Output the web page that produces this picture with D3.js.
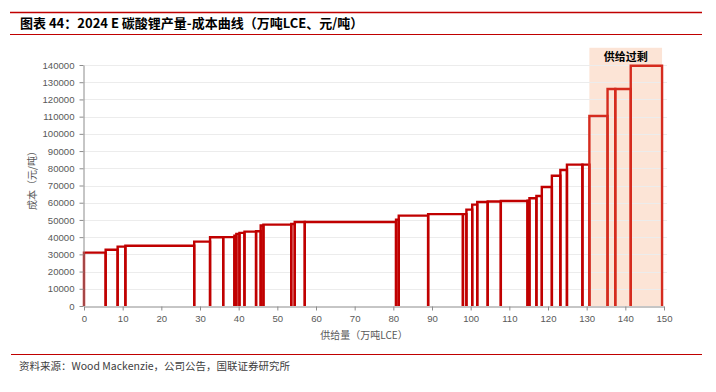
<!DOCTYPE html>
<meta charset="utf-8">
<head>
    <script src="https://d3js.org/d3.v7.min.js"></script>
</head>
<style>
    body { margin: 0; background: #fff; }
    .tick text { font-family: 'Liberation Sans', Arial, sans-serif; font-size: 9.6px; fill: #595959; }
    .axis path, .axis line { stroke: #8c8c8c; }
    .cn { font-family: 'Noto Sans CJK SC', sans-serif; }
</style>
<div id="my_dataviz"></div>
<script>

    // cumulative supply (万吨LCE) at the right edge of each step, and its cost (元/吨)
    var supplyEnd = [5.6, 8.7, 10.7, 28.5, 32.6, 36.0, 38.9, 39.4, 40.2, 41.5, 44.5, 45.7, 46.4, 53.6, 54.5, 57.1,
        80.7, 81.4, 89.0, 98.0, 98.9, 100.4, 101.7, 104.4, 107.8, 114.7, 115.2, 117.0, 118.4, 121.0, 123.2,
        124.9, 128.9, 130.7, 135.4, 137.4, 141.4, 149.5];
    var cost = [31000, 32700, 34500, 35000, 37400, 39900, 40000, 40900, 41900, 42500, 43200, 43400, 46800, 47300,
        47600, 48800, 48800, 50200, 52500, 53400, 53400, 56000, 58900, 60400, 60700, 61000, 61200, 62600, 63900,
        69100, 75700, 79000, 82100, 82100, 110400, 126100, 126100, 139600];
    var xTicks = [0, 10, 20, 30, 40, 50, 60, 70, 80, 90, 100, 110, 120, 130, 140, 150];
    var yTicks = [0, 10000, 20000, 30000, 40000, 50000, 60000, 70000, 80000, 90000, 100000, 110000, 120000, 130000, 140000];
    var surplusStart = 130.7;
    var surplusLabel = "供给过剩";

    var steps = supplyEnd.map(function (e, i) {
        return {x0: i === 0 ? 0 : supplyEnd[i - 1], x1: e, cost: cost[i]};
    });

    var W = 716, H = 392;
    var svg = d3.select("#my_dataviz")
        .append("svg")
        .attr("width", W)
        .attr("height", H);

    // header / footer
    svg.append("line").attr("x1", 10).attr("x2", 702).attr("y1", 12.5).attr("y2", 12.5)
        .attr("stroke", "#c00000").attr("stroke-width", 1.5);
    svg.append("line").attr("x1", 10).attr("x2", 702).attr("y1", 34.5).attr("y2", 34.5)
        .attr("stroke", "#c00000").attr("stroke-width", 1);
    svg.append("text").attr("class", "cn")
        .attr("x", 20).attr("y", 28)
        .style("font-size", "13px").style("font-weight", "bold").style("fill", "#000")
        .text("图表 44：2024 E 碳酸锂产量-成本曲线（万吨LCE、元/吨）");
    svg.append("line").attr("x1", 11).attr("x2", 702).attr("y1", 354.5).attr("y2", 354.5)
        .attr("stroke", "#c00000").attr("stroke-width", 1);
    svg.append("text").attr("class", "cn")
        .attr("x", 19).attr("y", 370)
        .style("font-size", "10.5px").style("fill", "#404040")
        .text("资料来源：Wood Mackenzie，公司公告，国联证券研究所");

    var x = d3.scaleLinear().domain([0, 150]).range([84, 664]);
    var y = d3.scaleLinear().domain([0, 140000]).range([306, 65]);

    // surplus shading
    svg.append("rect")
        .attr("x", x(surplusStart))
        .attr("y", y(150000))
        .attr("width", x(supplyEnd[supplyEnd.length - 1]) - x(surplusStart))
        .attr("height", y(0) - y(150000))
        .attr("fill", "#fce4d6");
    svg.append("text").attr("class", "cn")
        .attr("x", (x(surplusStart) + x(supplyEnd[supplyEnd.length - 1])) / 2)
        .attr("y", 61)
        .attr("text-anchor", "middle")
        .style("font-size", "11px").style("font-weight", "bold").style("fill", "#000")
        .text(surplusLabel);

    // gridlines
    svg.append("g")
        .selectAll("line")
        .data(yTicks.slice(1))
        .enter()
        .append("line")
        .attr("x1", x(0)).attr("x2", x(150) + 3)
        .attr("y1", function (d) { return Math.round(y(d)) + 0.5; })
        .attr("y2", function (d) { return Math.round(y(d)) + 0.5; })
        .attr("stroke", "#ececec")
        .attr("stroke-width", 1);

    // steps: open-bottom boxes standing on the axis
    svg.append("g")
        .selectAll("path")
        .data(steps)
        .enter()
        .append("path")
        .attr("d", function (d) {
            return "M" + x(d.x0) + "," + y(0) + "V" + y(d.cost) + "H" + x(d.x1) + "V" + y(0);
        })
        .attr("fill", "none")
        .attr("stroke", function (d) { return d.x0 >= surplusStart ? "#d52b1e" : "#c00000"; })
        .attr("stroke-width", 2.4);

    // axes
    svg.append("g")
        .attr("class", "axis")
        .attr("transform", "translate(0," + (y(0) + 0.5) + ")")
        .call(d3.axisBottom(x).tickValues(xTicks).tickSize(4).tickSizeOuter(0))
        .selectAll("text").attr("dy", "0.9em");
    svg.append("g")
        .attr("class", "axis")
        .attr("transform", "translate(" + (x(0) - 0.5) + ",0)")
        .call(d3.axisLeft(y).tickValues(yTicks).tickSize(4).tickSizeOuter(0).tickFormat(d3.format("d")))
        .selectAll("text").attr("x", -9);

    // axis titles
    svg.append("text").attr("class", "cn")
        .attr("x", (x(0) + x(150)) / 2 - 10)
        .attr("y", 339)
        .attr("text-anchor", "middle")
        .style("font-size", "10px").style("fill", "#595959")
        .text("供给量（万吨LCE）");
    svg.append("text").attr("class", "cn")
        .attr("transform", "translate(36," + 178 + ") rotate(-90)")
        .attr("text-anchor", "middle")
        .style("font-size", "10px").style("fill", "#595959")
        .text("成本（元/吨）");

</script>
